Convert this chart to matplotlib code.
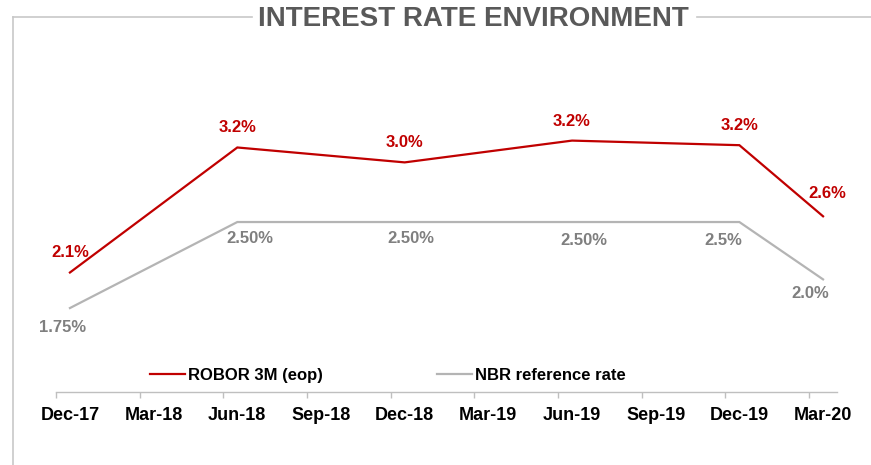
import matplotlib
matplotlib.use("Agg")
import matplotlib.pyplot as plt
from matplotlib.lines import Line2D
from matplotlib.ticker import FixedLocator, NullFormatter, FixedFormatter

plt.rcParams['font.family'] = ['Liberation Sans', 'DejaVu Sans']

# quarter categories on the x axis
quarters = ['Dec-17', 'Mar-18', 'Jun-18', 'Sep-18', 'Dec-18',
            'Mar-19', 'Jun-19', 'Sep-19', 'Dec-19', 'Mar-20']

# ROBOR 3M (eop), only at some quarters (index into quarters)
robor_idx = [0, 2, 4, 6, 8, 9]
robor_vals = [2.06, 3.15, 3.02, 3.21, 3.17, 2.55]
robor_text = ['2.1%', '3.2%', '3.0%', '3.2%', '3.2%', '2.6%']

# NBR reference rate
nbr_idx = [0, 2, 4, 6, 8, 9]
nbr_vals = [1.75, 2.50, 2.50, 2.50, 2.50, 2.00]
nbr_text = ['1.75%', '2.50%', '2.50%', '2.50%', '2.5%', '2.0%']

RED = '#c00000'
GREY_LINE = '#b4b4b4'
GREY_TXT = '#7f7f7f'
FRAME = '#c8c8c8'

W, H = 871, 465
fig = plt.figure(figsize=(W / 100, H / 100), dpi=100)

# axes placed in pixel terms: x 56..837, y 100..392 (from top)
ax = fig.add_axes([56 / W, (H - 392) / H, (837 - 56) / W, 292 / H])
ax.set_xlim(-1 / 6, 9 + 1 / 6)
ax.set_ylim(1.018, 3.564)

ax.plot(robor_idx, robor_vals, color=RED, lw=1.6, solid_joinstyle='miter',
        label='ROBOR 3M (eop)', clip_on=False)
ax.plot(nbr_idx, nbr_vals, color=GREY_LINE, lw=1.6, solid_joinstyle='miter',
        label='NBR reference rate', clip_on=False)

# data labels (nudges in pixels, as placed in the original)
robor_nudge = [(0, 20), (0, 20), (0, 20), (0, 19), (0, 20), (4, 23)]
nbr_nudge = [(-7, -19), (13, -16), (6, -16), (12, -18), (-16, -18), (-13, -14)]

for i, v, t, (dx, dy) in zip(robor_idx, robor_vals, robor_text, robor_nudge):
    ax.annotate(t, (i, v), xytext=(dx * 0.72, dy * 0.72), textcoords='offset points',
                ha='center', va='center', color=RED, fontsize=12, fontweight='bold')
for i, v, t, (dx, dy) in zip(nbr_idx, nbr_vals, nbr_text, nbr_nudge):
    ax.annotate(t, (i, v), xytext=(dx * 0.72, dy * 0.72), textcoords='offset points',
                ha='center', va='center', color=GREY_TXT, fontsize=12, fontweight='bold')

for s in ['top', 'right', 'left']:
    ax.spines[s].set_visible(False)
ax.spines['bottom'].set_color('#bfbfbf')
ax.spines['bottom'].set_linewidth(1.0)
ax.set_yticks([])

# tick marks between categories, labels on the categories
ax.xaxis.set_major_locator(FixedLocator([i - 1 / 6 for i in range(len(quarters))]))
ax.xaxis.set_major_formatter(NullFormatter())
ax.xaxis.set_minor_locator(FixedLocator(list(range(len(quarters)))))
ax.xaxis.set_minor_formatter(FixedFormatter(quarters))
ax.tick_params(axis='x', which='major', direction='out', length=4, width=1, color='#bfbfbf')
ax.tick_params(axis='x', which='minor', length=0, pad=11, labelsize=13)
for lab in ax.get_xticklabels(minor=True):
    lab.set_fontweight('bold')

ax.legend(loc='center left', bbox_to_anchor=(150 / W, (H - 375) / H),
          bbox_transform=fig.transFigure, ncol=2, frameon=False,
          handlelength=2.1, handletextpad=0.2, columnspacing=6.8,
          borderpad=0, borderaxespad=0,
          prop={'size': 12, 'weight': 'bold'})

# frame with title breaking the top line
fig.add_artist(Line2D([13 / W, 13 / W], [(H - 17) / H, 0], color=FRAME, lw=1.2,
                      transform=fig.transFigure))
fig.add_artist(Line2D([13 / W, 252 / W], [(H - 17) / H] * 2, color=FRAME, lw=1.2,
                      transform=fig.transFigure))
fig.add_artist(Line2D([697 / W, 1.0], [(H - 17) / H] * 2, color=FRAME, lw=1.2,
                      transform=fig.transFigure))
fig.text(473 / W, (H - 19) / H, 'INTEREST RATE ENVIRONMENT', ha='center', va='center',
         fontsize=20, fontweight='bold', color='#595959')

fig.savefig('out.png', dpi=100)
